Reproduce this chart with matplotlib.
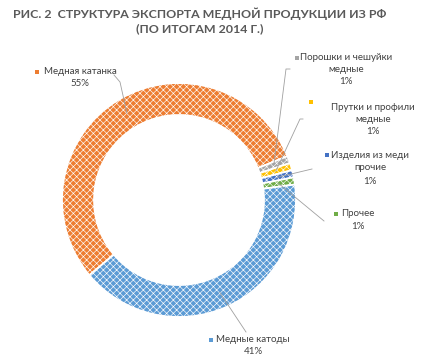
import numpy as np
import matplotlib
matplotlib.use("Agg")
import matplotlib.pyplot as plt

plt.rcParams['font.family'] = ['Lato', 'DejaVu Sans']
plt.rcParams['hatch.linewidth'] = 0.45

# data
categories = ["Медная катанка", "Порошки и чешуйки медные", "Прутки и профили медные",
              "Изделия из меди прочие", "Прочее", "Медные катоды"]
shares = [55, 1, 1, 1, 1, 41]
colors = ["#ED7D31", "#A5A5A5", "#FFC000", "#4472C4", "#70AD47", "#5B9BD5"]
label_lines = [["Медная катанка", "55%"],
               ["Порошки и чешуйки", "медные", "1%"],
               ["Прутки и профили", "медные", "1%"],
               ["Изделия из меди", "прочие", "1%"],
               ["Прочее", "1%"],
               ["Медные катоды", "41%"]]

W, H = 428, 364
fig = plt.figure(figsize=(W / 100, H / 100), dpi=100)
ax = fig.add_axes([0, 0, 1, 1])


def py(y):
    # image row -> data y
    return H - y


cx, cy, R, width = 179, py(200), 117, 32
wedges, _ = ax.pie(shares, colors=colors, startangle=220, counterclock=False,
                   center=(cx, cy), radius=R, frame=True,
                   wedgeprops=dict(width=width, edgecolor='white', linewidth=1.3))
for w in wedges:
    w.set_hatch('xxxxx')
ax.set_xlim(0, W)
ax.set_ylim(0, H)
ax.set_aspect('equal')
ax.axis('off')

# title
ax.text(200, py(14), "РИС. 2  СТРУКТУРА ЭКСПОРТА МЕДНОЙ ПРОДУКЦИИ ИЗ РФ",
        ha='center', va='center', fontsize=8.9, fontweight='bold', color='#595959')
ax.text(200, py(29), "(ПО ИТОГАМ 2014 Г.)",
        ha='center', va='center', fontsize=8.9, fontweight='bold', color='#595959')

# label layout (image px): text centre x, first line y, line step, marker xy, leader points
layout = [
    dict(tx=80, ty=72, step=12, mk=(37, 72), lead=[(114, 75), (120, 82)]),
    dict(tx=346, ty=58, step=12, mk=(297, 58), lead=[(290, 69), (286, 69)]),
    dict(tx=373, ty=107, step=12.5, mk=(311, 102), lead=[(303, 119), (300, 119)]),
    dict(tx=370, ty=155, step=13, mk=(327, 155), lead=[(312, 169)]),
    dict(tx=358, ty=214, step=12.5, mk=(336, 214), lead=[(324, 221)]),
    dict(tx=253, ty=340, step=12, mk=(211, 340), lead=[(246, 332)]),
]

rmid = R - width / 2
for w, lines, col, lo in zip(wedges, label_lines, colors, layout):
    for i, s in enumerate(lines):
        ax.text(lo['tx'], py(lo['ty'] + i * lo['step']), s, ha='center', va='center',
                fontsize=7, color='#404040')
    ax.scatter([lo['mk'][0]], [py(lo['mk'][1])], marker='s', s=9, color=col,
               linewidths=0, zorder=5)
    ang = np.deg2rad((w.theta1 + w.theta2) / 2)
    end = (cx + rmid * np.cos(ang), cy + rmid * np.sin(ang))
    xs = [p[0] for p in lo['lead']] + [end[0]]
    ys = [py(p[1]) for p in lo['lead']] + [end[1]]
    ax.plot(xs, ys, color='#A0A0A0', lw=0.6, zorder=4)

fig.savefig("out.png", dpi=100)
